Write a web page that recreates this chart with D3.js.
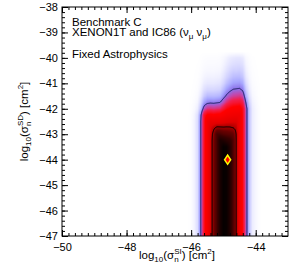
<!DOCTYPE html>
<html>
<head>
<meta charset="utf-8">
<script src="https://cdn.jsdelivr.net/npm/d3@7"></script>
<style>
  body { margin: 0; background: #fff; }
  svg { display: block; font-family: "Liberation Sans", Arial, sans-serif; }
</style>
</head>
<body>
<svg id="chart" width="299" height="268"></svg>
<script>
// Profile likelihood (relative to best fit) on a coarse grid.
// columns: log10(sigma_SI), rows: log10(sigma_SD)
const siCols = [-46.1, -46.0, -45.9, -45.8, -45.7, -45.6, -45.5, -45.4, -45.3, -45.2, -45.1, -45.0,
                -44.9, -44.8, -44.7, -44.6, -44.5, -44.4, -44.3, -44.2, -44.1, -44.0, -43.9, -43.8];
const sdRows = [-47.0, -43.5, -43.25, -43.0, -42.75, -42.5, -42.25, -42.0, -41.75,
                -41.5, -41.25, -41.0, -40.75, -40.5, -40.25, -40.0, -39.75];

// the band is flat in sigma_SD below about -43.5
const bandBase = [0, .0015, .006, .015, .05, .10, .17, .26, .38, .55, .80, .95, .92, .75, .52, .31, .19, .11, .06, .025, .008, .004, .001, 0];
const likeGrid = [
  bandBase,
  bandBase,
  [0, .0015, .006, .015, .05, .10, .17, .26, .38, .55, .80, .766, .697, .648, .52, .31, .19, .11, .06, .025, .008, .004, .001, 0],
  [0, .0015, .006, .015, .05, .10, .17, .26, .36, .55, .546, .505, .484, .465, .44, .31, .19, .11, .06, .025, .008, .004, .001, 0],
  [0, .0015, .006, .015, .05, .10, .17, .25, .30, .343, .339, .334, .336, .333, .32, .29, .19, .11, .06, .025, .008, .004, .001, 0],
  [0, .0015, .006, .015, .05, .10, .17, .209, .204, .210, .210, .220, .233, .239, .244, .248, .19, .11, .06, .025, .008, .004, .001, 0],
  [0, .0014, .0054, .0136, .045, .10, .123, .127, .124, .128, .130, .146, .162, .171, .178, .181, .185, .11, .06, .025, .008, .004, .001, 0],
  [0, .0008, .0033, .0082, .027, .061, .075, .077, .075, .078, .081, .096, .113, .123, .130, .132, .136, .11, .06, .025, .008, .004, .001, 0],
  [0, .0005, .002, .005, .017, .037, .045, .047, .046, .048, .050, .063, .078, .088, .095, .097, .099, .089, .0465, .019, .0062, .0031, .0008, 0],
  [0, .0003, .0012, .003, .010, .022, .028, .028, .028, .029, .031, .042, .054, .063, .069, .071, .073, .065, .032, .013, .0043, .0021, .0005, 0],
  [0, .0002, .0007, .0018, .006, .0135, .017, .017, .017, .018, .019, .028, .038, .045, .051, .052, .053, .047, .022, .009, .0029, .0015, .0004, 0],
  [0, .0001, .0004, .0011, .0037, .0082, .010, .010, .010, .011, .012, .018, .026, .032, .037, .038, .039, .034, .015, .0063, .002, .001, .0003, 0],
  [0, 0, .0003, .0007, .0023, .005, .0062, .0063, .0062, .0067, .0074, .012, .018, .023, .027, .028, .028, .024, .010, .0043, .0014, .0007, .0002, 0],
  [0, 0, .0002, .0004, .0014, .003, .0037, .0038, .0037, .0041, .0046, .008, .0126, .017, .020, .020, .021, .018, .0071, .003, .001, .0005, .0001, 0],
  [0, 0, .0001, .0003, .0008, .0018, .0023, .0023, .0023, .0025, .0028, .0052, .0087, .012, .014, .015, .015, .013, .0049, .002, .0007, .0003, 0, 0],
  [0, 0, 0, 0, .0005, .0011, .0014, .0014, .0014, .0015, .0018, .0035, .006, .0086, .010, .011, .011, .0092, .0034, .0014, .0004, .0002, 0, 0],
  [0, 0, 0, 0, 0, 0, 0, 0, 0, 0, 0, 0, 0, 0, 0, 0, 0, 0, 0, 0, 0, 0, 0, 0]
];

const contourLevels = [0.05, 0.32];   // 95% and 68% regions
const bestFit = [-44.87, -44.0];

const xTicks = [-50, -48, -46, -44];
const yTicks = [-38, -39, -40, -41, -42, -43, -44, -45, -46, -47];

// white -> blue -> magenta -> red -> black
const colorStops = [0, 0.004, 0.01, 0.02, 0.035, 0.05, 0.065, 0.085, 0.12, 0.25, 0.32, 0.42, 0.6, 0.85, 1];
const colorRange = ['#ffffff', '#f7f7ff', '#e8e8ff', '#d0d0ff', '#a8a8ff', '#8a70e8', '#c04ab0', '#f02050',
                    '#ff0000', '#e00000', '#a00000', '#680000', '#380000', '#120000', '#000000'];

const W = 299, H = 268;
const margin = { top: 7, right: 11, bottom: 32, left: 62 };

const svg = d3.select('#chart');

const x = d3.scaleLinear().domain([-50, -43]).range([margin.left, W - margin.right]);
const y = d3.scaleLinear().domain([-47, -38]).range([H - margin.bottom, margin.top]);
const color = d3.scaleLinear().domain(colorStops).range(colorRange)
  .interpolate(d3.interpolateRgb).clamp(true);

// grid lookup
const colIdx = d3.scaleLinear().domain(d3.extent(siCols)).range([0, siCols.length - 1]);
const rowIdx = d3.scaleLinear().domain(sdRows).range(sdRows.map((d, i) => i)).clamp(true);

function like(sx, sy) {
  const fc = colIdx(sx);
  if (fc < 0 || fc > siCols.length - 1) return 0;
  const fr = rowIdx(sy);
  const c0 = Math.min(Math.floor(fc), siCols.length - 2);
  const r0 = Math.min(Math.floor(fr), sdRows.length - 2);
  const tc = fc - c0, tr = fr - r0;
  const g = likeGrid;
  const lo = g[r0][c0] * (1 - tc) + g[r0][c0 + 1] * tc;
  const hi = g[r0 + 1][c0] * (1 - tc) + g[r0 + 1][c0 + 1] * tc;
  return lo * (1 - tr) + hi * tr;
}

// raster the field over the plot area
const pw = Math.round(x(-43) - x(-50));
const ph = Math.round(y(-47) - y(-38)) + 4;
const values = new Float64Array(pw * ph);
const canvas = document.createElement('canvas');
canvas.width = pw; canvas.height = ph;
const ctx = canvas.getContext('2d');
const img = ctx.createImageData(pw, ph);
for (let j = 0; j < ph; j++) {
  const sy = y.invert(margin.top + j + 0.5);
  for (let i = 0; i < pw; i++) {
    const sx = x.invert(margin.left + i + 0.5);
    const v = like(sx, sy);
    values[j * pw + i] = v;
    const c = d3.rgb(color(v));
    const k = 4 * (j * pw + i);
    img.data[k] = c.r; img.data[k + 1] = c.g; img.data[k + 2] = c.b; img.data[k + 3] = 255;
  }
}
ctx.putImageData(img, 0, 0);

svg.append('defs').append('clipPath').attr('id', 'plot-clip')
  .append('rect')
  .attr('x', x(-50)).attr('y', y(-38))
  .attr('width', x(-43) - x(-50)).attr('height', y(-47) - y(-38));

const plot = svg.append('g').attr('clip-path', 'url(#plot-clip)');

plot.append('image')
  .attr('x', margin.left).attr('y', margin.top)
  .attr('width', pw).attr('height', ph)
  .attr('preserveAspectRatio', 'none')
  .attr('href', canvas.toDataURL());

const contours = d3.contours().size([pw, ph]).thresholds(contourLevels)(values);
plot.append('g')
  .attr('transform', `translate(${margin.left},${margin.top})`)
  .selectAll('path')
  .data(contours)
  .join('path')
  .attr('d', d3.geoPath())
  .attr('fill', 'none')
  .attr('stroke', (d, i) => i === 0 ? '#1e1e5c' : '#000')
  .attr('stroke-width', 1);

// best fit point
const bx = x(bestFit[0]), by = y(bestFit[1]);
svg.append('path')
  .attr('transform', `translate(${bx},${by}) scale(1.15,1)`)
  .attr('d', d3.symbol(d3.symbolDiamond, 40)())
  .attr('fill', '#ffff00');
svg.append('path')
  .attr('transform', `translate(${bx},${by}) scale(1.15,1)`)
  .attr('d', d3.symbol(d3.symbolDiamond, 12)())
  .attr('fill', '#ff0000');

// axes, ticks pointing inwards on all four sides
const minorX = d3.range(-50, -43.001, 0.2);
const minorY = d3.range(-47, -37.999, 0.2);
const fmt = d3.format('d');

function drawAxis(axis, tx, ty) {
  const g = svg.append('g').attr('transform', `translate(${tx},${ty})`).call(axis);
  g.select('.domain').remove();
  g.selectAll('.tick line').attr('stroke', '#000');
  g.selectAll('.tick text').attr('fill', '#000').attr('font-size', 11)
    .attr('font-family', '"Liberation Sans", Arial, sans-serif');
  return g;
}

drawAxis(d3.axisBottom(x).tickValues(xTicks).tickFormat(fmt).tickSize(-6).tickPadding(7).tickSizeOuter(0), 0, y(-47));
drawAxis(d3.axisBottom(x).tickValues(minorX).tickSize(-3).tickFormat('').tickSizeOuter(0), 0, y(-47));
drawAxis(d3.axisTop(x).tickValues(xTicks).tickSize(-6).tickFormat('').tickSizeOuter(0), 0, y(-38));
drawAxis(d3.axisTop(x).tickValues(minorX).tickSize(-3).tickFormat('').tickSizeOuter(0), 0, y(-38));
drawAxis(d3.axisLeft(y).tickValues(yTicks).tickFormat(fmt).tickSize(-6).tickPadding(4).tickSizeOuter(0), x(-50), 0);
drawAxis(d3.axisLeft(y).tickValues(minorY).tickSize(-3).tickFormat('').tickSizeOuter(0), x(-50), 0);
drawAxis(d3.axisRight(y).tickValues(yTicks).tickSize(-6).tickFormat('').tickSizeOuter(0), x(-43), 0);
drawAxis(d3.axisRight(y).tickValues(minorY).tickSize(-3).tickFormat('').tickSizeOuter(0), x(-43), 0);

svg.append('rect')
  .attr('x', x(-50)).attr('y', y(-38))
  .attr('width', x(-43) - x(-50)).attr('height', y(-47) - y(-38))
  .attr('fill', 'none').attr('stroke', '#000').attr('stroke-width', 1);

// axis titles
function sigmaLabel(t, tag) {
  t.append('tspan').text('log');
  t.append('tspan').attr('font-size', 8).attr('dy', 3).text('10');
  t.append('tspan').attr('dy', -3).text('(σ');
  t.append('tspan').attr('font-size', 8).attr('dy', 3).text('n');
  t.append('tspan').attr('font-size', 8).attr('dx', -4.4).attr('dy', -8).text(tag);
  t.append('tspan').attr('dy', 5).text(') [cm');
  t.append('tspan').attr('font-size', 8).attr('dy', -5).text('2');
  t.append('tspan').attr('dy', 5).text(']');
}

svg.append('text')
  .attr('x', (x(-50) + x(-43)) / 2 + 2).attr('y', 259)
  .attr('text-anchor', 'middle').attr('font-size', 11.5)
  .call(sigmaLabel, 'SI');

svg.append('text')
  .attr('transform', `translate(27.5,${(y(-47) + y(-38)) / 2}) rotate(-90)`)
  .attr('text-anchor', 'middle').attr('font-size', 11.5)
  .call(sigmaLabel, 'SD');

// annotation
const note = svg.append('g').attr('font-size', 11.5).attr('fill', '#000');
note.append('text').attr('x', 72).attr('y', 25.5).text('Benchmark C');
const l2 = note.append('text').attr('x', 72).attr('y', 36);
l2.append('tspan').text('XENON1T and IC86 (ν');
l2.append('tspan').attr('font-size', 8).attr('dy', 3).text('μ');
l2.append('tspan').attr('dy', -3).text(' ν');
l2.append('tspan').attr('font-size', 8).attr('dy', 3).text('μ');
l2.append('tspan').attr('dy', -3).text(')');
note.append('text').attr('x', 72).attr('y', 57.5).text('Fixed Astrophysics');
</script>
</body>
</html>
